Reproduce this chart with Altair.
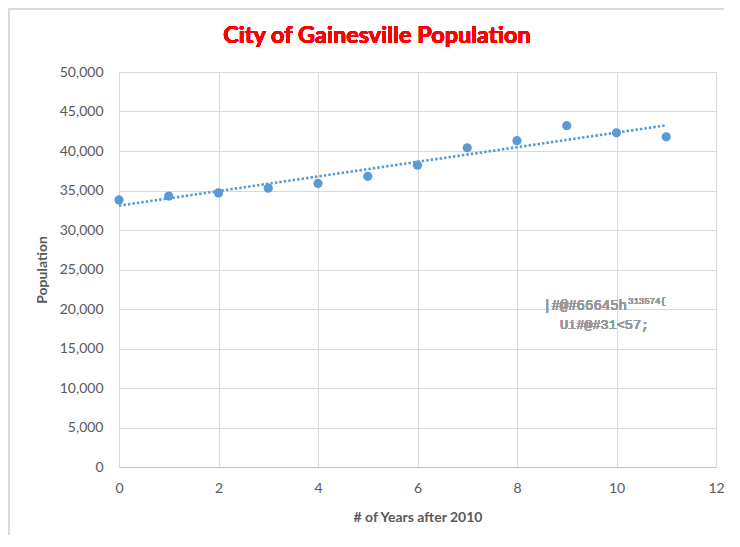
import altair as alt
import pandas as pd

years = [0, 1, 2, 3, 4, 5, 6, 7, 8, 9, 10, 11]
population = [33800, 34300, 34700, 35300, 35900, 36800, 38200, 40400, 41300, 43200, 42300, 41800]

df = pd.DataFrame({"year": years, "pop": population})

FONT = "Lato"
GRAY = "#595959"
BLUE = "#5b9bd5"

W, H = 597, 395

x_enc = alt.X("year:Q", scale=alt.Scale(domain=[0, 12], nice=False),
              axis=alt.Axis(values=[0, 2, 4, 6, 8, 10, 12], format=".0f", title="# of Years after 2010",
                            grid=True, ticks=False, domain=True, domainColor="#bfbfbf",
                            labelFlush=False, labelPadding=14, titlePadding=15))
y_enc = alt.Y("pop:Q", scale=alt.Scale(domain=[0, 50000], nice=False),
              axis=alt.Axis(values=list(range(0, 50001, 5000)), format=",.0f", title="Population",
                            grid=True, ticks=False, domain=False, labelFlush=False,
                            labelPadding=16, titlePadding=10))

points = alt.Chart(df).mark_circle(size=85, opacity=1, color=BLUE).encode(x=x_enc, y=y_enc)

trend = alt.Chart(df).transform_regression("year", "pop").mark_line(
    color=BLUE, strokeDash=[2.5, 2], strokeWidth=2.6
).encode(x=x_enc, y=y_enc)

border_top = alt.Chart(df).mark_rule(color="#d9d9d9", strokeWidth=1.5, clip=False).encode(
    x=alt.value(-110.5), x2=alt.value(605), y=alt.value(-63.5))
border_left = alt.Chart(df).mark_rule(color="#d9d9d9", strokeWidth=1.5, clip=False).encode(
    x=alt.value(-110.5), y=alt.value(-63.5), y2=alt.value(520))

title = alt.Chart(df).mark_text(align="center", baseline="alphabetic", font=FONT, fontSize=23.5,
                                fontWeight="bold", color="#ff0000").encode(
    x=alt.value(258), y=alt.value(-29), text=alt.value("City of Gainesville Population"))

MONO = "Liberation Mono"
ACOL = "#999999"
ann1 = alt.Chart(df).mark_text(align="left", baseline="alphabetic", font=MONO,
                               fontSize=14, color=ACOL).encode(
    x=alt.value(424), y=alt.value(238), text=alt.value("|#@#66645h"))
ann1b = alt.Chart(df).mark_text(align="left", baseline="alphabetic", font=MONO,
                                fontSize=9, color=ACOL).encode(
    x=alt.value(509), y=alt.value(232), text=alt.value("313574{"))
ann2 = alt.Chart(df).mark_text(align="left", baseline="alphabetic", font=MONO,
                               fontSize=13.5, color=ACOL).encode(
    x=alt.value(441), y=alt.value(257), text=alt.value("Ui#@#31<57;"))

chart = alt.layer(trend, points, border_top, border_left, ann1, ann1b, ann2, title).properties(
    width=W, height=H,
    autosize=alt.AutoSizeParams(type="none"),
    padding={"left": 111, "top": 64, "right": 10, "bottom": 68},
).configure_view(stroke=None).configure_axis(
    labelFont=FONT, titleFont=FONT, labelColor=GRAY, titleColor=GRAY,
    labelFontSize=14, titleFontSize=14, titleFontWeight="bold", gridColor="#d9d9d9", gridWidth=1
)

chart.save("out.html", embed_options={"renderer": "svg", "actions": False})
